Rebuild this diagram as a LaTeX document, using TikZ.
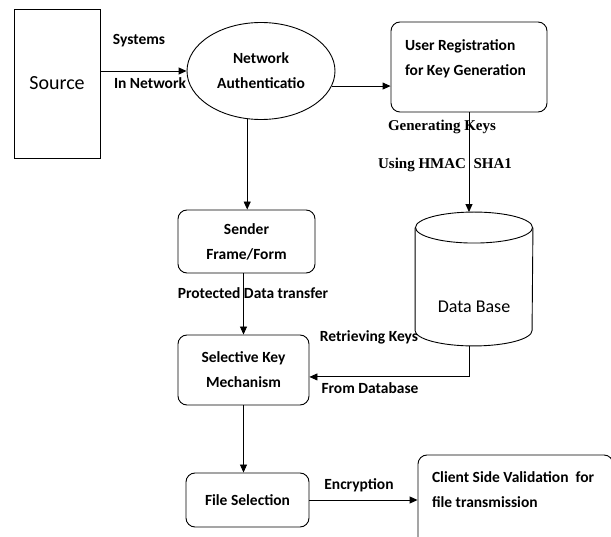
\documentclass[tikz,border=0pt]{standalone}
\usepackage{fontspec}
\setmainfont{Carlito}
\newfontfamily\serifbf{Liberation Serif}
\usetikzlibrary{arrows.meta,positioning,shapes.geometric,calc}

\begin{document}
\begin{tikzpicture}[x=1pt, y=-1pt, >={Triangle[length=8pt,width=7pt]},
    line width=0.9pt, font=\fontsize{15.5}{25}\selectfont\bfseries,
    flowbox/.style={draw, rounded corners=9pt, align=center, inner sep=0pt},
    keylbl/.style={font=\fontsize{15}{18}\serifbf\bfseries}]

  \useasboundingbox (0,0) rectangle (611,537);
  \clip (0,0) rectangle (611,537);

  %--- Blocks -------------------------------------------------------------
  \node[draw, minimum width=86pt, minimum height=149pt,
        font=\fontsize{20}{24}\selectfont] (source) at (57,83.5) {Source};
  \node[draw, ellipse, minimum width=148pt, minimum height=97pt,
        inner sep=0pt, align=center] (auth) at (261,71) {Network\\Authenticatio};
  \node[flowbox, minimum width=156pt, minimum height=90pt] (userreg) at (469,67) {};
  \node[align=left, inner sep=0pt, below right=18pt and 14pt of userreg.north west]
        (userregtxt) {User Registration\\for Key Generation};
  \node[flowbox, minimum width=137pt, minimum height=63pt] (sender) at (246.5,241.5)
        {Sender\\Frame/Form};
  \node[flowbox, minimum width=131pt, minimum height=70pt] (selkey) at (243.5,370)
        {Selective Key\\Mechanism};
  \node[flowbox, minimum width=123pt, minimum height=54pt] (filesel) at (247.5,500)
        {File Selection};
  \node[flowbox, minimum width=195pt, minimum height=100pt] (client) at (515.5,505) {};
  \node[align=left, inner sep=0pt, below right=17pt and 14pt of client.north west]
        (clienttxt) {Client Side Validation\ \ for\\file transmission};

  %--- Data base (cylinder) -----------------------------------------------
  \node[minimum width=117pt, minimum height=133pt, inner sep=0pt] (db) at (474,279) {};
  \draw ([yshift=-15.5pt]db.north) ellipse [x radius=58.5pt, y radius=15.5pt];
  \draw ([yshift=-15.5pt]db.north west) -- ([yshift=15.5pt]db.south west)
        arc[start angle=180, end angle=360, x radius=58.5pt, y radius=15.5pt]
        -- ([yshift=-15.5pt]db.north east);
  \node[font=\fontsize{18}{20}\selectfont] (dbtxt) at ([yshift=-28pt]db.center) {Data Base};
  \coordinate (dbout) at (db.south -| userreg.south);

  %--- Connector labels ---------------------------------------------------
  \node (systems)  at (139,41)  {Systems};
  \node (innet)    at (150,83)  {In Network};
  \node[keylbl] (genkeys) at (442,127) {Generating Keys};
  \node[keylbl] (hmac)    at (445,165) {Using HMAC\ \ SHA1};
  \node (protect)  at (253,293) {Protected Data transfer};
  \node (retrieve) at (369,337) {Retrieving Keys};
  \node (fromdb)   at (370,388) {From Database};
  \node (encrypt)  at (359,485) {Encryption};

  %--- Connectors ---------------------------------------------------------
  \draw[->] (source.east |- auth.west) -- (auth.west);
  \draw[->] (auth.-12) -- (auth.-12 -| userreg.west);
  \draw[->] (auth.254) -- (auth.254 |- sender.north);
  \draw[->] (userreg.south) -- (userreg.south |- db.north);
  \draw[->] (sender.south -| selkey.north) -- (selkey.north);
  \draw[->] (dbout) -- (dbout |- selkey.-6) -- (selkey.-6);
  \draw[->] (selkey.south) -- (selkey.south |- filesel.north);
  \draw[->] (filesel.east) -- (filesel.east -| client.west);

\end{tikzpicture}
\end{document}
